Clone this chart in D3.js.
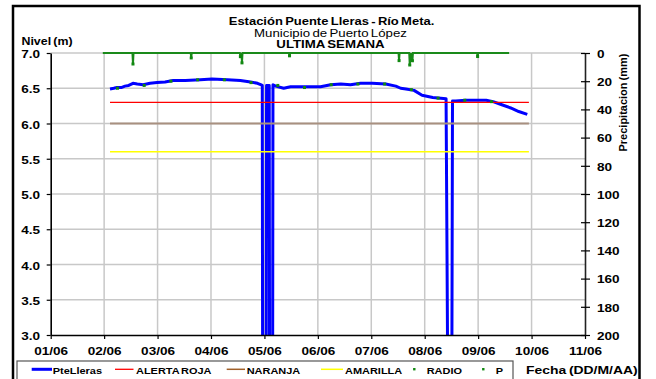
<!DOCTYPE html>
<html>
<head>
<meta charset="utf-8">
<script src="https://cdn.jsdelivr.net/npm/d3@7"></script>
<style>
  html, body { margin: 0; padding: 0; background: #fff; }
  svg { display: block; font-family: "Liberation Sans", Arial, sans-serif; }
</style>
</head>
<body>
<svg id="chart" width="656" height="379"></svg>
<script>
// ---------- DATA ----------
const dayLabels = ["01/06","02/06","03/06","04/06","05/06","06/06","07/06","08/06","09/06","10/06","11/06"];
const dayTicks = [0,1,2,3,4,5,6,7,8,9,10];
const nivelTicks = [3.0,3.5,4.0,4.5,5.0,5.5,6.0,6.5,7.0];
const precipTicks = [0,20,40,60,80,100,120,140,160,180,200];

// PteLleras level (days since 01/06 00:00, metres); 0 = faulty readings (clipped at axis)
const levelDays = [1.11,1.18,1.24,1.32,1.39,1.46,1.54,1.62,1.73,1.86,1.99,2.14,2.29,2.52,2.80,3.02,3.31,3.55,3.74,3.87,3.93,3.96,
  3.97,4.03,4.04,4.09,4.10,4.15,4.16,4.21,4.36,4.49,4.67,4.86,5.05,5.24,5.43,5.61,5.80,6.02,6.27,6.46,6.55,6.65,6.80,6.95,7.15,7.40,
  7.45,7.50,7.52,7.58,7.77,7.96,8.15,8.28,8.43,8.61,8.76,8.92];
const levelValues = [6.49,6.50,6.51,6.51,6.53,6.54,6.57,6.56,6.55,6.57,6.58,6.59,6.61,6.61,6.62,6.63,6.62,6.61,6.59,6.57,6.55,6.54,
  0,0,6.54,6.54,0,0,6.55,6.53,6.50,6.52,6.52,6.52,6.52,6.55,6.56,6.55,6.57,6.57,6.56,6.53,6.50,6.49,6.47,6.40,6.37,6.35,
  0,0,6.32,6.32,6.33,6.33,6.33,6.31,6.27,6.22,6.17,6.13];

// RADIO readings
const radioDays = [1.25,1.75,2.25,2.75,3.25,3.75,4.25,4.75,5.25,5.75,6.25,6.75,7.25,7.75,8.25];
const radioValues = [6.50,6.54,6.60,6.62,6.62,6.58,6.54,6.51,6.55,6.56,6.56,6.48,6.36,6.33,6.31];

// Precipitation P (mm)
const precipDays = [0.975,1.53,1.54,1.55,2.62,2.63,2.64,3.54,3.55,3.57,3.58,3.59,4.46,4.47,4.48,6.51,6.52,6.53,6.71,6.72,6.74,6.77,6.78,7.98,7.99,8.00,8.58];
const precipValues = [0,0,7.8,0,0,3.5,0,0,2.6,0,7.0,0,0,2.0,0,0,5.4,0,0,8.5,0,5.5,0,0,2.5,0,0];

// Alert thresholds
const alertNames = ["ALERTA ROJA","NARANJA","AMARILLA"];
const alertValues = [6.3,6.0,5.6];
const alertStart = 1.11, alertEnd = 8.95;

// ---------- LAYOUT ----------
const SX = 1.18;
const FONT = '"Liberation Sans", Arial, sans-serif';
const svg = d3.select("#chart");
const x = d3.scaleLinear().domain([0,10]).range([50.7,585]);
const yL = d3.scaleLinear().domain([3,7]).range([335,53]);
const yR = d3.scaleLinear().domain([0,200]).range([53,335]);

function stext(g, px, py, str, size, weight, anchor, sx) {
  return g.append("text")
    .attr("transform", `translate(${px},${py}) scale(${sx || SX},1)`)
    .attr("text-anchor", anchor || "start")
    .attr("font-size", size).attr("font-weight", weight || "normal")
    .attr("word-spacing", "-1px")
    .attr("fill", "#000").text(str);
}

// outer frame
svg.append("rect").attr("x",13).attr("y",6).attr("width",626.5).attr("height",380)
  .attr("fill","none").attr("stroke","#000").attr("stroke-width",2.5);

// titles
stext(svg, 331.5, 25.3, "Estación Puente Lleras - Río Meta.", 10, "bold", "middle", 1.3);
stext(svg, 330.5, 36.8, "Municipio de Puerto López", 10.2, "normal", "middle", 1.3);
stext(svg, 330.5, 48.2, "ULTIMA SEMANA", 10.2, "bold", "middle", 1.3);
stext(svg, 21.5, 45, "Nivel (m)", 10.5, "bold", "start");

// grid
const grid = svg.append("g");
grid.selectAll("line.v").data(dayTicks.slice(1,10)).join("line")
  .attr("x1", d => x(d)).attr("x2", d => x(d)).attr("y1", yL(7)).attr("y2", yL(3))
  .attr("stroke","#c8c8c8").attr("stroke-width",1.5);
grid.selectAll("line.h").data(nivelTicks.slice(1)).join("line")
  .attr("x1", x(0)).attr("x2", x(10)).attr("y1", d => yL(d)).attr("y2", d => yL(d))
  .attr("stroke","#c8c8c8").attr("stroke-width",1.5);

// clip
svg.append("clipPath").attr("id","plotclip").append("rect")
  .attr("x", x(0)).attr("y", yL(7) - 2).attr("width", x(10) - x(0)).attr("height", yL(3) - yL(7) + 2);

const plot = svg.append("g").attr("clip-path","url(#plotclip)");

// level line
const levelData = levelDays.map((d,i) => [d, levelValues[i]]);
plot.append("path").datum(levelData)
  .attr("d", d3.line().x(d => x(d[0])).y(d => yL(d[1])))
  .attr("fill","none").attr("stroke","#0000ff").attr("stroke-width",3).attr("stroke-linejoin","round");

// alert lines
const alertColors = ["#ff0000","#a89080","#ffff00"];
const alertWidths = [1.3,2,1.5];
plot.selectAll("line.alert").data(alertValues).join("line")
  .attr("x1", x(alertStart)).attr("x2", x(alertEnd))
  .attr("y1", d => yL(d)).attr("y2", d => yL(d))
  .attr("stroke", (d,i) => alertColors[i]).attr("stroke-width", (d,i) => alertWidths[i]);

// radio markers
plot.selectAll("rect.radio").data(radioDays.map((d,i) => [d, radioValues[i]])).join("rect")
  .attr("x", d => x(d[0]) - 1.5).attr("y", d => yL(d[1]) - 1.5).attr("width",3).attr("height",3)
  .attr("fill","#118811");

// precipitation
const precipData = precipDays.map((d,i) => [d, precipValues[i]]);
svg.append("path").datum(precipData)
  .attr("d", d3.line().x(d => x(d[0])).y(d => yR(d[1])))
  .attr("fill","none").attr("stroke","#1a8a1a").attr("stroke-width",2);
svg.selectAll("rect.p").data(precipData.filter(d => d[1] > 0)).join("rect")
  .attr("x", d => x(d[0]) - 1.5).attr("y", d => yR(d[1]) - 1.5).attr("width",3).attr("height",3)
  .attr("fill","#118811");

// axes
const bottom = svg.append("g").attr("transform", `translate(0,${yL(3)})`)
  .call(d3.axisBottom(x).tickValues(dayTicks).tickFormat((d,i) => dayLabels[i]).tickSize(4).tickSizeOuter(0).tickPadding(8));
const left = svg.append("g").attr("transform", `translate(${x(0)},0)`)
  .call(d3.axisLeft(yL).tickValues(nivelTicks).tickFormat(d3.format(".1f")).tickSize(4).tickSizeOuter(0).tickPadding(5));
const right = svg.append("g").attr("transform", `translate(${x(10)},0)`)
  .call(d3.axisRight(yR).tickValues(precipTicks).tickFormat(d3.format("d")).tickSize(5).tickSizeOuter(0).tickPadding(5.2));
right.selectAll(".tick line").attr("x1", -4);

[bottom, left, right].forEach(g => {
  g.select(".domain").attr("stroke","#000").attr("stroke-width",1.6);
  g.selectAll(".tick line").attr("stroke","#000").attr("stroke-width",1.2);
  g.selectAll("text").attr("font-family", FONT).attr("font-size", 11.5).attr("font-weight","bold").attr("fill","#000");
});
right.select(".domain").attr("stroke","#222");
bottom.selectAll("text").attr("transform", `scale(${SX},1)`);
left.selectAll("text").attr("transform", `scale(${SX},1)`).attr("dy","0.4em");
right.selectAll("text").attr("transform", `scale(${SX},1)`).attr("dy","0.38em");

// right axis label
svg.append("text").attr("transform","translate(627,102.5) rotate(-90)")
  .attr("text-anchor","middle").attr("font-size",11).attr("font-weight","bold")
  .attr("word-spacing","-1px").text("Precipitacion (mm)");

// x label
stext(svg, 526, 373.5, "Fecha (DD/M/AA)", 11.8, "bold", "start");

// legend
const lg = svg.append("g");
lg.append("rect").attr("x",17).attr("y",361).attr("width",496).attr("height",20)
  .attr("fill","#fff").attr("stroke","#555").attr("stroke-width",1.2);
const legendItems = [
  {name:"PteLleras", type:"line", color:"#0000ff", w:3, x1:31.7, x2:52, tx:52.7},
  {name:alertNames[0], type:"line", color:"#ff0000", w:1.3, x1:115, x2:133.5, tx:136},
  {name:alertNames[1], type:"line", color:"#a0602a", w:1.5, x1:226.7, x2:245, tx:246.7},
  {name:alertNames[2], type:"line", color:"#ffff00", w:1.5, x1:321, x2:343, tx:345},
  {name:"RADIO", type:"dot", color:"#118811", cx:414.3, tx:426.7},
  {name:"P", type:"dot", color:"#118811", cx:483.3, tx:495.7}
];
legendItems.forEach(it => {
  if (it.type === "line") {
    lg.append("line").attr("x1",it.x1).attr("x2",it.x2).attr("y1",369.3).attr("y2",369.3)
      .attr("stroke",it.color).attr("stroke-width",it.w);
  } else {
    lg.append("rect").attr("x",it.cx-1.2).attr("y",368).attr("width",2.4).attr("height",2.4).attr("fill",it.color);
  }
  stext(lg, it.tx, 374.3, it.name, 9.3, "bold", "start");
});
</script>
</body>
</html>
